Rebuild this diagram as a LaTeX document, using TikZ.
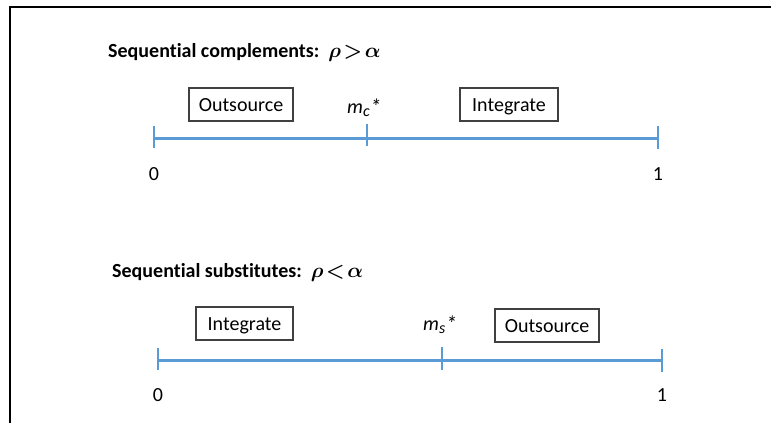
\documentclass[tikz,border=0pt]{standalone}
\usepackage{fontspec}
\setmainfont[Ligatures=NoCommon]{Carlito}
\definecolor{axisblue}{HTML}{5B9BD5}
\definecolor{boxgray}{HTML}{404040}
\begin{document}
\begin{tikzpicture}[x=1pt,y=-1pt,
  lbl/.style={font=\fontsize{20}{24}\selectfont, inner sep=0pt},
  ttl/.style={font=\fontsize{20}{24}\selectfont\bfseries\boldmath, inner sep=0pt, anchor=base west},
  optbox/.style={draw=boxgray, line width=1.1pt, font=\fontsize{20}{24}\selectfont, text height=13pt, text depth=0pt, minimum height=33pt, inner sep=0pt},
  axisline/.style={draw=axisblue, line width=3pt},
  tick/.style={draw=axisblue, line width=1.6pt}]
\useasboundingbox (0,0) rectangle (771,423);
\coordinate (fb) at (10,423);
\coordinate (fc) at (10,7);
\coordinate (fr) at (771,7);
\draw[line width=1.2pt] (fb) -- (fc) -- (fr);

% top panel
\node[ttl] (t1) at (108,57) {Sequential complements:\ \ $\rho\mskip2mu{>}\mskip2mu\alpha$};
\node[optbox, minimum width=104pt] (o1) at (241,104.5) {Outsource};
\node[optbox, minimum width=98pt] (i1) at (509,104.5) {Integrate};
\node[lbl, anchor=base west] (mc) at (347,113) {\itshape m\textsubscript{\fontsize{16}{18}\selectfont c}\raisebox{-1pt}{\fontsize{22}{24}\selectfont*}};
\coordinate (a0) at (154,138);
\coordinate (a1) at (658,138);
\coordinate (am) at (367,138);
\draw[axisline] (a0) -- (a1);
\draw[tick] ([yshift=-10pt]a0) -- ([yshift=12pt]a0);
\draw[tick] ([yshift=-8pt]am) -- ([yshift=14pt]am);
\draw[tick] ([yshift=-11pt]a1) -- ([yshift=12pt]a1);
\node[lbl] (z1) at (154,174) {0};
\node[lbl] (u1) at (658,174) {1};

% bottom panel
\node[ttl] (t2) at (112,277) {Sequential substitutes:\ \ $\rho\mskip2mu{<}\mskip2mu\alpha$};
\node[optbox, minimum width=97pt] (i2) at (244.5,323.5) {Integrate};
\node[optbox, minimum width=104pt] (o2) at (547,325.5) {Outsource};
\node[lbl, anchor=base west] (ms) at (423,330) {\itshape m\textsubscript{\fontsize{16}{18}\selectfont s}\raisebox{-1pt}{\fontsize{22}{24}\selectfont*}};
\coordinate (b0) at (158,360);
\coordinate (b1) at (662,360);
\coordinate (bm) at (442,360);
\draw[axisline] (b0) -- (b1);
\draw[tick] ([yshift=-10pt]b0) -- ([yshift=12pt]b0);
\draw[tick] ([yshift=-10pt]bm) -- ([yshift=13pt]bm);
\draw[tick] ([yshift=-12pt]b1) -- ([yshift=11pt]b1);
\node[lbl] (z2) at (158,395) {0};
\node[lbl] (u2) at (662,395) {1};
\end{tikzpicture}
\end{document}
